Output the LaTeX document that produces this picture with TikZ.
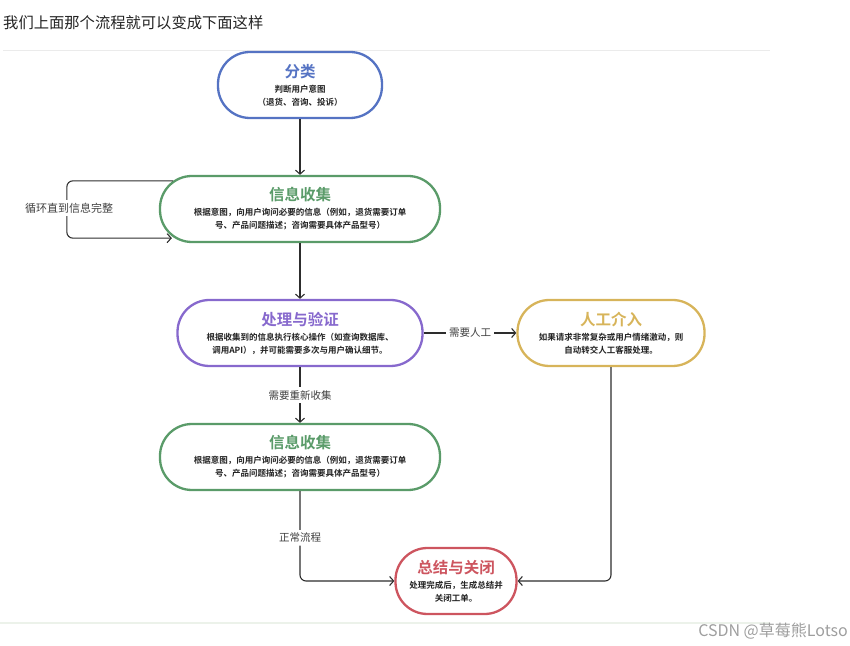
\documentclass[tikz,border=0pt]{standalone}
\usepackage{fontspec}
\setmainfont{Noto Sans CJK SC}[BoldFont={Noto Sans CJK SC Bold}]
\usepackage{tikz}
\usetikzlibrary{positioning, arrows.meta, calc}

\definecolor{clsC}{RGB}{85,115,195}
\definecolor{infoC}{RGB}{90,155,105}
\definecolor{procC}{RGB}{135,105,205}
\definecolor{manC}{RGB}{215,180,90}
\definecolor{closC}{RGB}{205,85,95}
\definecolor{inkC}{RGB}{34,34,34}
\definecolor{wireC}{RGB}{45,45,45}
\definecolor{footC}{RGB}{236,242,234}

\newcommand{\stitle}[2]{{\color{#1}\fontsize{15.5}{18}\selectfont\bfseries #2}}

\begin{document}
\begin{tikzpicture}[
    x=1pt, y=1pt,
    stage/.style={draw=#1, line width=2.3pt, rectangle, rounded corners=32pt,
                  minimum height=66pt, align=center, text=inkC,
                  font=\fontsize{8.5}{13}\selectfont\bfseries, inner sep=0pt},
    note/.style={fill=white, text=black!75, font=\fontsize{10.5}{12}\selectfont, inner sep=3pt},
    flow/.style={draw=wireC, line width=1.1pt, -{Straight Barb[length=4pt,width=9pt]}},
]
\useasboundingbox (0,0) rectangle (850,645);

% Header of the screenshot
\node[anchor=west, text=inkC, font=\fontsize{15.3}{17}\selectfont, inner sep=0pt] (head) at (3,622)
  {我们上面那个流程就可以变成下面这样};
\draw[black!8, line width=0.8pt] (3,595) -- (770,595);

% Stages
\node[stage=clsC, minimum width=164pt] (cls) at (300,560)
  {\stitle{clsC}{分类}\\[2pt] 判断用户意图\\（退货、咨询、投诉）};
\node[stage=infoC, minimum width=280pt] (info1) at (300,436)
  {\stitle{infoC}{信息收集}\\[2pt] 根据意图，向用户询问必要的信息（例如，退货需要订单\\号、产品问题描述；咨询需要具体产品型号）};
\node[stage=procC, minimum width=245pt] (proc) at (300,312)
  {\stitle{procC}{处理与验证}\\[2pt] 根据收集到的信息执行核心操作（如查询数据库、\\调用API），并可能需要多次与用户确认细节。};
\node[stage=manC, minimum width=187pt] (manual) at (611,312)
  {\stitle{manC}{人工介入}\\[2pt] 如果请求非常复杂或用户情绪激动，则\\自动转交人工客服处理。};
\node[stage=infoC, minimum width=280pt] (info2) at (300,188)
  {\stitle{infoC}{信息收集}\\[2pt] 根据意图，向用户询问必要的信息（例如，退货需要订单\\号、产品问题描述；咨询需要具体产品型号）};
\node[stage=closC, minimum width=121pt] (close) at (456,64)
  {\stitle{closC}{总结与关闭}\\[2pt] 处理完成后，生成总结并\\关闭工单。};

% Connectors
\draw[flow] (cls) -- (info1);
\draw[flow] (info1) -- (proc);
\draw[flow] (proc) -- node[note] {需要人工} (manual);
\draw[flow] (proc) -- node[note] {需要重新收集} (info2);
\draw[flow, rounded corners=6pt] (info2) |- node[note, pos=0.26] {正常流程} (close);
\draw[flow, rounded corners=6pt] (manual) |- (close);

% Loop back into the first collection step
\coordinate (loopout) at ($(info1.north west)+(14,-6)$);
\coordinate (loopin) at ($(info1.south west)+(13,5)$);
\draw[flow, rounded corners=6pt] (loopout) -- ++(-106,0) |- (loopin);
\node[note, font=\fontsize{11}{13}\selectfont] (looplbl) at (69,437) {循环直到信息完整};

% Page footer
\draw[footC, line width=1.5pt] (0,22) -- (770,22);
\node[anchor=east, text=black!38, font=\fontsize{16}{18}\selectfont, inner sep=0pt] (mark) at (848,14)
  {CSDN @草莓熊Lotso};

\end{tikzpicture}
\end{document}
